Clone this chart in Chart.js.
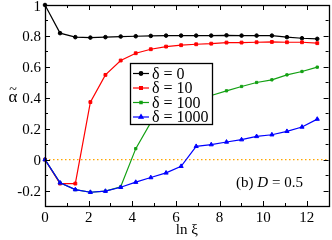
<!DOCTYPE html>
<html><head><meta charset="utf-8">
<script src="https://cdn.jsdelivr.net/npm/chart.js@4/dist/chart.umd.min.js"></script>
<style>html,body{margin:0;padding:0;background:#fff;overflow:hidden}canvas{display:block}</style>
</head><body><canvas id="c" width="332" height="240" style="width:332px;height:240px"></canvas>
<script>
const lnXi = [0, 0.69, 1.39, 2.08, 2.77, 3.47, 4.16, 4.85, 5.55, 6.24, 6.93, 7.62, 8.32, 9.01, 9.70, 10.40, 11.09, 11.78, 12.48];
const alphaD0    = [1.0, 0.818, 0.792, 0.789, 0.792, 0.796, 0.798, 0.800, 0.802, 0.802, 0.802, 0.802, 0.804, 0.802, 0.802, 0.802, 0.792, 0.785, 0.781];
const alphaD10   = [0, -0.155, -0.155, 0.372, 0.548, 0.641, 0.688, 0.714, 0.731, 0.740, 0.746, 0.750, 0.757, 0.757, 0.759, 0.761, 0.759, 0.759, 0.753];
const alphaD100  = [0, -0.150, -0.194, -0.211, -0.204, -0.176, 0.071, 0.240, 0.300, 0.350, 0.385, 0.415, 0.445, 0.473, 0.499, 0.516, 0.548, 0.570, 0.598];
const alphaD1000 = [0, -0.150, -0.194, -0.211, -0.204, -0.179, -0.146, -0.116, -0.086, -0.043, 0.086, 0.097, 0.114, 0.129, 0.150, 0.161, 0.183, 0.211, 0.262];
const seriesLabels = ['δ = 0', 'δ = 10', 'δ = 100', 'δ = 1000'];
const yTickLabels = ['-0.2', '0', '0.2', '0.4', '0.6', '0.8', '1'];
const yTickValues = [-0.2, 0, 0.2, 0.4, 0.6, 0.8, 1];
const zeroLineX = [0, 13];
const zeroLineY = [0, 0];
const xTitle = 'ln ξ';
const yTitleBase = 'α';
const yTitleAccent = '~';
const panelText = ['(b) ', 'D', ' = 0.5'];

const pts = (xs, ys) => xs.map((x, i) => ({x, y: ys[i]}));
const serif = '"Liberation Serif", "DejaVu Serif", serif';

const frameTicks = {
  id: 'frameTicks',
  afterDraw(chart) {
    const {ctx, chartArea: a, scales: {x, y}} = chart;
    ctx.save();
    ctx.setTransform(1, 0, 0, 1, 0, 0);
    ctx.strokeStyle = '#000';
    ctx.lineWidth = 1;
    ctx.beginPath();
    x.ticks.forEach(t => {
      const px = Math.round(x.getPixelForValue(t.value)) + 0.5;
      const L = (Math.round(t.value) % 2 === 0) ? 5 : 3;
      ctx.moveTo(px, a.bottom); ctx.lineTo(px, a.bottom - L);
      ctx.moveTo(px, a.top); ctx.lineTo(px, a.top + L);
    });
    y.ticks.forEach(t => {
      const py = Math.round(y.getPixelForValue(t.value)) + 0.5;
      const L = (Math.round(t.value * 10) % 2 === 0) ? 5 : 3;
      ctx.moveTo(a.left, py); ctx.lineTo(a.left + L, py);
      ctx.moveTo(a.right, py); ctx.lineTo(a.right - L, py);
    });
    ctx.stroke();
    ctx.lineWidth = 1.3;
    ctx.strokeRect(Math.round(a.left) + 0.5, Math.round(a.top) + 0.5, Math.round(a.right - a.left), Math.round(a.bottom - a.top));

    // y tick labels (left-aligned, positioned by measured width)
    ctx.fillStyle = '#000';
    ctx.font = '15px ' + serif;
    ctx.textAlign = 'left';
    ctx.textBaseline = 'alphabetic';
    yTickValues.forEach((v, i) => {
      const s = yTickLabels[i];
      const w = ctx.measureText(s).width;
      ctx.fillText(s, a.left - 4 - w, y.getPixelForValue(v) + 5.5);
    });

    // y title (alpha with tilde above)
    const tx = 13, ty = Math.round(y.getPixelForValue(0.4));
    ctx.font = '17px ' + serif;
    const aw = ctx.measureText(yTitleBase).width;
    ctx.fillText(yTitleBase, tx - aw / 2, ty + 4);
    ctx.font = '14px ' + serif;
    const tw = ctx.measureText(yTitleAccent).width;
    ctx.fillText(yTitleAccent, tx - tw / 2, ty - 4);

    // legend
    const lx = a.left + 85, ly = a.top + 58, lw = 82, lh = 61;
    ctx.fillStyle = '#fff';
    ctx.fillRect(lx, ly, lw, lh);
    ctx.lineWidth = 1.3;
    ctx.strokeStyle = '#000';
    ctx.strokeRect(lx + 0.5, ly + 0.5, lw, lh);
    const legendSets = chart.data.datasets.filter(d => d.inLegend);
    legendSets.forEach((d, i) => {
      const ry = ly + 10.5 + i * 14.5;
      ctx.strokeStyle = d.borderColor;
      ctx.fillStyle = d.borderColor;
      ctx.lineWidth = 1.2;
      ctx.beginPath(); ctx.moveTo(lx + 3, ry); ctx.lineTo(lx + 19, ry); ctx.stroke();
      Chart.helpers.drawPoint(ctx, {pointStyle: d.pointStyle, radius: d.pointRadius, rotation: 0, borderWidth: 1}, lx + 11, ry);
      ctx.setTransform(1, 0, 0, 1, 0, 0);
      ctx.fillStyle = '#000';
      ctx.font = '16px ' + serif;
      ctx.textBaseline = 'middle';
      ctx.textAlign = 'left';
      ctx.fillText(d.label, lx + 22, ry + 1);
    });

    // panel label
    ctx.textAlign = 'left';
    ctx.textBaseline = 'alphabetic';
    let px = x.getPixelForValue(8.76), py = y.getPixelForValue(-0.18);
    panelText.forEach((s, i) => {
      ctx.font = (i === 1 ? 'italic ' : '') + '15px ' + serif;
      ctx.fillText(s, px, py);
      px += ctx.measureText(s).width;
    });
    ctx.restore();
  }
};

const mk = (label, ys, color, style, r, order) => ({
  label, data: pts(lnXi, ys), borderColor: color, backgroundColor: color,
  borderWidth: 1.2, pointStyle: style, pointRadius: r, pointBorderWidth: 1,
  pointHoverRadius: r, order, clip: false, inLegend: true, tension: 0
});

new Chart(document.getElementById('c'), {
  type: 'line',
  data: {
    datasets: [
      mk(seriesLabels[0], alphaD0, '#000000', 'circle', 1.8, 3),
      mk(seriesLabels[1], alphaD10, '#ff0000', 'rect', 2, 2),
      mk(seriesLabels[2], alphaD100, '#13a013', 'rect', 1.6, 1),
      mk(seriesLabels[3], alphaD1000, '#0000ff', 'triangle', 2.4, 0),
      {label: 'zero', data: pts(zeroLineX, zeroLineY), borderColor: '#ffa500', borderWidth: 1.2,
       borderDash: [1.5, 2.5], pointRadius: 0, order: 5, inLegend: false}
    ]
  },
  options: {
    responsive: false, animation: false, maintainAspectRatio: false,
    devicePixelRatio: 1,
    layout: {padding: {top: 5, right: 2, left: 0, bottom: 0}},
    plugins: {legend: {display: false}, tooltip: {enabled: false}},
    scales: {
      x: {
        type: 'linear', min: 0, max: 13,
        grid: {display: false, drawTicks: false},
        border: {display: false},
        afterFit: s => { s.height = 34; },
        ticks: {stepSize: 1, padding: 3, color: '#000', font: {family: serif, size: 15},
          maxRotation: 0, autoSkip: false,
          callback: v => (Math.round(v) % 2 === 0 ? String(Math.round(v)) : '')},
        title: {display: true, text: xTitle, color: '#000', font: {family: serif, size: 15}, padding: {top: 0, bottom: 1}}
      },
      y: {
        type: 'linear', min: -0.3, max: 1,
        grid: {display: false, drawTicks: false},
        border: {display: false},
        afterFit: s => { s.width = 45; },
        ticks: {display: false, stepSize: 0.1, autoSkip: false}
      }
    }
  },
  plugins: [frameTicks]
});
</script>
</body></html>
